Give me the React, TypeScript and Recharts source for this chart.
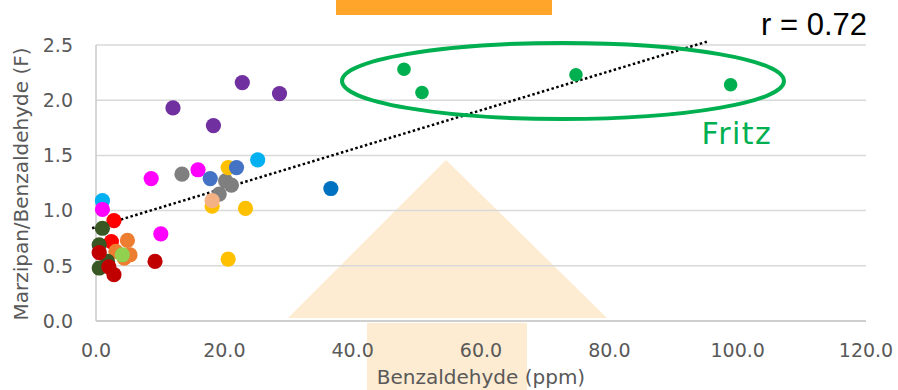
import React from 'react';
import { ScatterChart, Scatter, XAxis, YAxis, CartesianGrid, ReferenceLine } from 'recharts';

// points, grouped by marker colour: [benzaldehyde ppm, ratio F]
const cyanPts = [[1.0, 1.09], [25.2, 1.46]];
const magentaPts = [[1.0, 1.01], [8.6, 1.29], [15.9, 1.37], [10.1, 0.79]];
const redPts = [[2.8, 0.91], [2.4, 0.72]];
const orangePts = [[4.9, 0.73], [3.1, 0.63], [4.4, 0.57], [5.3, 0.6]];
const lightGreenPts = [[4.1, 0.6]];
const darkGreenPts = [[1.0, 0.84], [0.5, 0.69], [1.8, 0.54], [0.5, 0.48]];
const darkRedPts = [[0.5, 0.62], [2.0, 0.49], [2.8, 0.42], [9.2, 0.54]];
const greyPts = [[13.4, 1.33], [20.2, 1.27], [21.1, 1.23], [19.2, 1.15]];
const goldPts = [[20.6, 1.39], [18.1, 1.04], [23.3, 1.02], [20.6, 0.56]];
const salmonPts = [[18.1, 1.09]];
const bluePts = [[17.8, 1.29], [21.9, 1.39]];
const darkBluePts = [[36.6, 1.2]];
const purplePts = [[12.0, 1.93], [22.8, 2.16], [28.6, 2.06], [18.3, 1.77]];
const fritzPts = [[48.0, 2.28], [50.8, 2.07], [74.8, 2.23], [98.9, 2.14]];

const trendStart = [-0.6, 0.84];
const trendEnd = [95.2, 2.53];

const xTicks = [0, 20, 40, 60, 80, 100, 120];
const yTicks = [0, 0.5, 1.0, 1.5, 2.0, 2.5];

const groups = [
  { name: 'cyan', pts: cyanPts, color: '#00B0F0' },
  { name: 'magenta', pts: magentaPts, color: '#FF00FF' },
  { name: 'red', pts: redPts, color: '#FF0000' },
  { name: 'orange', pts: orangePts, color: '#ED7D31' },
  { name: 'lightGreen', pts: lightGreenPts, color: '#92D050' },
  { name: 'darkGreen', pts: darkGreenPts, color: '#385723' },
  { name: 'darkRed', pts: darkRedPts, color: '#C00000' },
  { name: 'grey', pts: greyPts, color: '#7F7F7F' },
  { name: 'gold', pts: goldPts, color: '#FFC000' },
  { name: 'salmon', pts: salmonPts, color: '#F4B183' },
  { name: 'blue', pts: bluePts, color: '#4472C4' },
  { name: 'darkBlue', pts: darkBluePts, color: '#0070C0' },
  { name: 'purple', pts: purplePts, color: '#7030A0' },
  { name: 'fritz', pts: fritzPts, color: '#00B050' },
];

const FONT = '"DejaVu Sans", sans-serif';
const tickStyle = { fill: '#595959', fontSize: 19, fontFamily: FONT };

const dot = (color: string, r: number) => (p: any) => (
  <circle cx={p.cx} cy={p.cy} r={r} fill={color} />
);

export default function App() {
  return (
    <div style={{ position: 'absolute', left: 0, top: 0, width: 898, height: 390, background: '#fff', overflow: 'hidden' }}>
      {/* big pale arrow behind the plot */}
      <svg width={898} height={390} style={{ position: 'absolute', left: 0, top: 0 }}>
        <polygon points="446,160 607,318 288,318" fill="#FDEBD2" />
        <rect x={367} y={323} width={160} height={67} fill="#FDEBD2" />
      </svg>
      <div style={{ position: 'absolute', left: 0, top: 0 }}>
        <ScatterChart width={898} height={390} margin={{ top: 45, right: 32, left: 0, bottom: 0 }}>
          <CartesianGrid horizontal vertical={false} stroke="#D9D9D9" strokeWidth={1.5} />
          <XAxis
            type="number"
            dataKey="x"
            domain={[0, 120]}
            ticks={xTicks}
            tickFormatter={(v: number) => v.toFixed(1)}
            tick={tickStyle}
            tickLine={false}
            tickMargin={17}
            axisLine={{ stroke: '#C8C8C8', strokeWidth: 1.5 }}
            height={69}
            label={{
              content: () => (
                <text x={481} y={384} textAnchor="middle" fill="#595959" fontSize={20} fontFamily={FONT}>
                  Benzaldehyde (ppm)
                </text>
              ),
            }}
          />
          <YAxis
            type="number"
            dataKey="y"
            domain={[0, 2.5]}
            ticks={yTicks}
            tickFormatter={(v: number) => v.toFixed(1)}
            tick={tickStyle}
            tickLine={false}
            tickMargin={17}
            axisLine={{ stroke: '#C8C8C8', strokeWidth: 1.5 }}
            width={96}
            label={{
              content: () => (
                <text x={28} y={184} transform="rotate(-90 28 184)" textAnchor="middle" fill="#595959" fontSize={20} fontFamily={FONT}>
                  Marzipan/Benzaldehyde (F)
                </text>
              ),
            }}
          />
          {groups.map(g => (
            <Scatter
              key={g.name}
              name={g.name}
              data={g.pts.map(([x, y]) => ({ x, y }))}
              shape={dot(g.color, g.name === 'fritz' ? 6.8 : 7.6)}
              isAnimationActive={false}
            />
          ))}
          <ReferenceLine
            segment={[{ x: trendStart[0], y: trendStart[1] }, { x: trendEnd[0], y: trendEnd[1] }]}
            stroke="#000"
            strokeWidth={2.5}
            strokeDasharray="2.5 2.5"
            ifOverflow="visible"
          />
        </ScatterChart>
      </div>
      {/* annotations on top */}
      <svg width={898} height={390} style={{ position: 'absolute', left: 0, top: 0, pointerEvents: 'none' }}>
        <rect x={336} y={0} width={216} height={15} fill="#FFA52A" />
        <ellipse cx={563} cy={81} rx={221} ry={38} fill="none" stroke="#00B050" strokeWidth={4} />
        <text x={737} y={144} textAnchor="middle" fill="#00B050" fontSize={30} fontFamily={FONT} letterSpacing={1.5}>
          Fritz
        </text>
        <text x={867} y={35} textAnchor="end" fill="#000" fontSize={31} fontFamily='"Liberation Sans", Arial, sans-serif'>
          r = 0.72
        </text>
      </svg>
    </div>
  );
}
